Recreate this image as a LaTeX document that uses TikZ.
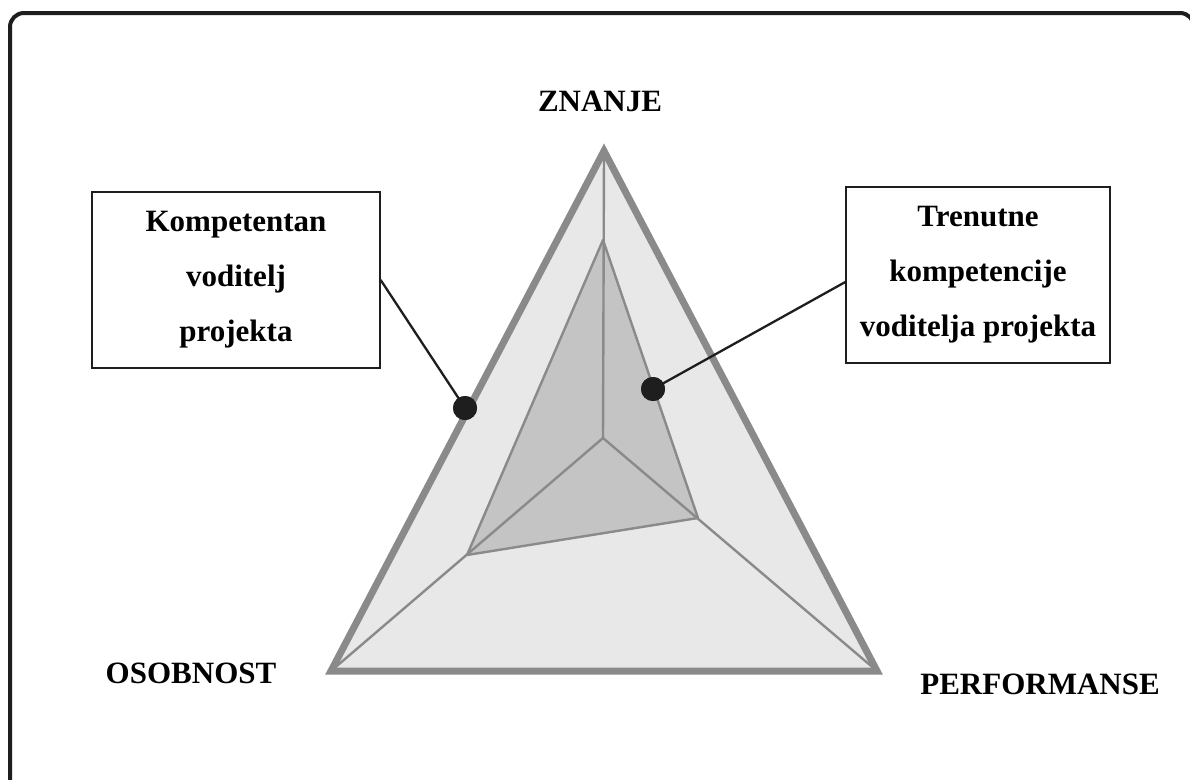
\documentclass[tikz,border=0pt]{standalone}
\usepackage{fontspec}
\setmainfont{Liberation Serif}
\definecolor{edgegray}{HTML}{8A8A8A}
\definecolor{outerfill}{HTML}{E8E8E8}
\definecolor{innerfill}{HTML}{C4C4C4}
\definecolor{framecol}{HTML}{1E1E1E}
\tikzset{
  lbl/.style={font=\fontsize{31}{54}\selectfont\bfseries, align=center, inner sep=0pt},
  callbox/.style={draw=framecol, line width=1.4pt, fill=white, font=\fontsize{31}{55}\selectfont\bfseries, align=center, inner sep=0pt},
  dotmark/.style={circle, fill=framecol, minimum size=24pt, inner sep=0pt},
  leader/.style={draw=framecol, line width=2.3pt},
  spoke/.style={draw=edgegray, line width=2.4pt},
}
\begin{document}
\begin{tikzpicture}[x=1pt,y=-1pt]
\useasboundingbox (0,0) rectangle (1190,779);
\clip (0,0) rectangle (1190,779);
\fill[white] (0,0) rectangle (1190,779);
% frame
\draw[framecol, line width=4pt, rounded corners=14pt] (10,13) rectangle (1194,800);
% coordinates
\coordinate (top) at (604,151);
\coordinate (bl) at (331,671);
\coordinate (br) at (877,671);
\coordinate (c) at (603,438);
\coordinate (it) at (603,240);
\coordinate (il) at (467,555);
\coordinate (ir) at (698,518);
% outer fill
\fill[outerfill] (top) -- (bl) -- (br) -- cycle;
% inner polygon
\fill[innerfill] (it) -- (ir) -- (il) -- cycle;
\draw[spoke, line join=round] (it) -- (ir) -- (il) -- cycle;
% spokes
\draw[spoke] (c) -- (top);
\draw[spoke] (c) -- (bl);
\draw[spoke] (c) -- (br);
% outer triangle
\draw[edgegray, line width=7pt] (top) -- (bl) -- (br) -- cycle;
% labels
\node[lbl] (znanje) at (600,101) {ZNANJE};
\node[lbl] (osob) at (191,673) {OSOBNOST};
\node[lbl] (perf) at (1040,684) {PERFORMANSE};
% boxes
\node[callbox, minimum width=288pt, minimum height=176pt] (lbox) at (236,280) {Kompetentan\\voditelj\\projekta};
\node[callbox, minimum width=264pt, minimum height=176pt] (rbox) at (978,275) {Trenutne\\kompetencije\\voditelja projekta};
% dots
\node[dotmark] (ldot) at (465,408) {};
\node[dotmark] (rdot) at (653,389) {};
% leaders
\draw[leader] (lbox.east) -- (ldot.center);
\draw[leader] ([yshift=-7pt]rbox.west) -- (rdot.center);
\node[dotmark] at (ldot) {};
\node[dotmark] at (rdot) {};
\end{tikzpicture}
\end{document}
